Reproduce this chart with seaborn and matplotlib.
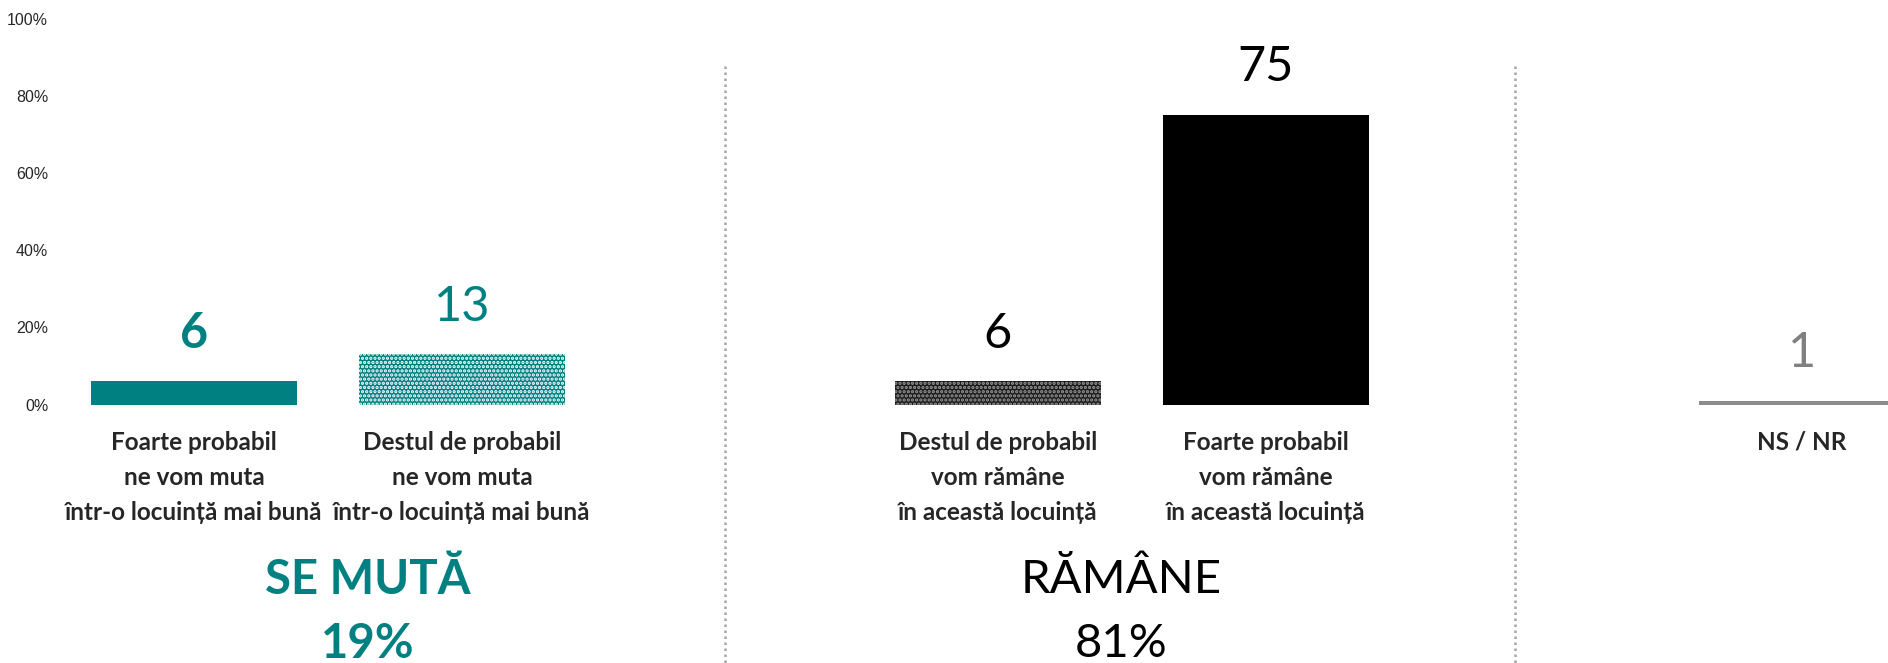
import matplotlib
matplotlib.use("Agg")
import matplotlib.pyplot as plt
import seaborn as sns
import pandas as pd

# ---- data ----
categories = [
    "Foarte probabil\nne vom muta\nîntr-o locuință mai bună",
    "Destul de probabil\nne vom muta\nîntr-o locuință mai bună",
    "Destul de probabil\nvom rămâne\nîn această locuință",
    "Foarte probabil\nvom rămâne\nîn această locuință",
    "NS / NR",
]
values = [6, 13, 6, 75, 1]
bar_colors = ["#008080", "#008080", "#1c1c1c", "#000000", "#8c8c8c"]
hatches = [None, "....", "....", None, None]
hatch_colors = ["#008080", "#ffffff", "#9a9a9a", "#000000", "#8c8c8c"]
label_colors = ["#008080", "#008080", "#000000", "#000000", "#808080"]
label_weights = ["bold", "normal", "normal", "normal", "normal"]
group_names = ["SE MUTĂ", "RĂMÂNE"]
group_totals = ["19%", "81%"]
group_colors = ["#008080", "#000000"]
group_weights = ["bold", "normal"]
y_ticks = [0, 20, 40, 60, 80, 100]
y_tick_labels = ["0%", "20%", "40%", "60%", "80%", "100%"]

# slot order with blank spacer slots between groups
slot_order = [categories[0], categories[1], " ", categories[2], categories[3], "  ", categories[4]]

df = pd.DataFrame({"cat": categories, "val": values})

sns.set_style("white")
plt.rcParams["font.family"] = ["Lato", "DejaVu Sans"]
plt.rcParams["hatch.linewidth"] = 1.6

W, H = 1888, 663
fig = plt.figure(figsize=(W / 100, H / 100), dpi=100)
ax = fig.add_axes([60 / W, (H - 404.6) / H, (W - 60) / W, 385.6 / H])

palette = dict(zip(categories, bar_colors))
sns.barplot(data=df, x="cat", y="val", hue="cat", palette=palette, order=slot_order,
            hue_order=categories, width=0.772, legend=False, saturation=1, ax=ax)

ax.set_xlim(-0.5, -0.5 + (W - 60) / 268)
ax.set_ylim(0, 100)

for p in ax.patches:
    cx = p.get_x() + p.get_width() / 2
    idx = int(round(cx))
    name = slot_order[idx]
    if name not in categories:
        continue
    i = categories.index(name)
    p.set_linewidth(0)
    if hatches[i]:
        p.set_hatch(hatches[i])
        p.set_edgecolor(hatch_colors[i])
    ax.annotate(str(values[i]), (cx, p.get_height()), xytext=(0, 34.5),
                textcoords="offset points", ha="center", va="center",
                fontsize=35, color=label_colors[i], fontweight=label_weights[i],
                annotation_clip=False)

for s in ax.spines.values():
    s.set_visible(False)

ax.set_yticks(y_ticks)
ax.set_yticklabels(y_tick_labels, fontsize=11.5, family=["Liberation Sans", "DejaVu Sans"])
ax.tick_params(axis="y", length=0, pad=8.5)
ax.set_xticks(range(len(slot_order)))
ax.set_xticklabels([s if s in categories else "" for s in slot_order],
                   fontsize=17.5, fontweight="bold", linespacing=1.62)
ax.tick_params(axis="x", length=0, pad=19)
ax.set_xlabel("")
ax.set_ylabel("")

# dotted separators
for xs in [1.98, 4.93]:
    ax.plot([xs, xs], [87.8, -67], linestyle=(0, (1, 1.4)), color="#a6a6a6",
            lw=1.8, clip_on=False, solid_capstyle="butt", dash_capstyle="butt")

# group labels
group_x = [368, 1121]
for gx, name, tot, c, w in zip(group_x, group_names, group_totals, group_colors, group_weights):
    fig.text(gx / W, (H - 580) / H, name, ha="center", va="center", fontsize=34,
             color=c, fontweight=w)
    fig.text(gx / W, (H - 644) / H, tot, ha="center", va="center", fontsize=34,
             color=c, fontweight=w)

fig.savefig("out.png", dpi=100)
